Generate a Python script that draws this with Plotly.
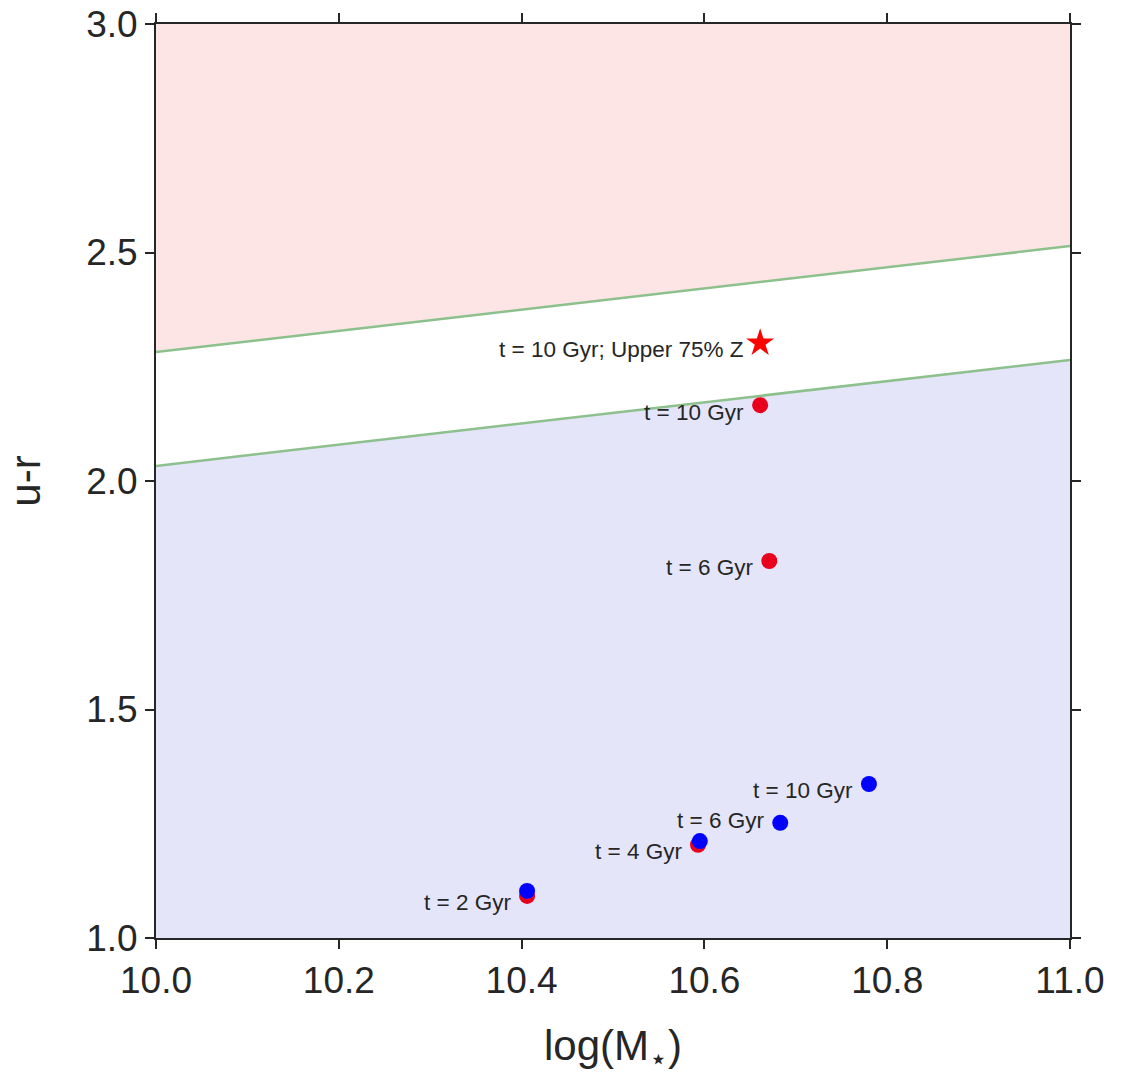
import plotly.graph_objects as go

# ---- data ----
boundary_x = [10.0, 11.0]
upper_line_y = [2.282, 2.514]
lower_line_y = [2.033, 2.265]

red_x = [10.406, 10.593, 10.671, 10.661]
red_y = [1.092, 1.204, 1.825, 2.166]
red_labels = ["t = 2 Gyr", "t = 4 Gyr", "t = 6 Gyr", "t = 10 Gyr"]

blue_x = [10.406, 10.595, 10.683, 10.780]
blue_y = [1.103, 1.212, 1.252, 1.337]
blue_labels = ["", "", "t = 6 Gyr", "t = 10 Gyr"]

star_x = [10.661]
star_y = [2.302]
star_labels = ["t = 10 Gyr; Upper 75% Z"]

x_range = [10.0, 11.0]
y_range = [1.0, 3.0]
x_ticks = [10.0, 10.2, 10.4, 10.6, 10.8, 11.0]
y_ticks = [1.0, 1.5, 2.0, 2.5, 3.0]

FONT = "Liberation Sans, Arial, sans-serif"
TXT = "#262626"

fig = go.Figure()

# red region above upper line
fig.add_trace(go.Scatter(
    x=boundary_x + boundary_x[::-1],
    y=upper_line_y + [y_range[1], y_range[1]],
    fill="toself", fillcolor="#fde5e5", line=dict(width=0),
    mode="lines", hoverinfo="skip", showlegend=False))
# blue region below lower line
fig.add_trace(go.Scatter(
    x=boundary_x + boundary_x[::-1],
    y=lower_line_y + [y_range[0], y_range[0]],
    fill="toself", fillcolor="#e5e5fa", line=dict(width=0),
    mode="lines", hoverinfo="skip", showlegend=False))
# boundary lines
for ly in (upper_line_y, lower_line_y):
    fig.add_trace(go.Scatter(x=boundary_x, y=ly, mode="lines",
                             line=dict(color="#8cc08c", width=2.5),
                             showlegend=False))

fig.add_trace(go.Scatter(x=red_x, y=red_y, mode="markers",
                         marker=dict(color="#e8001c", size=16),
                         showlegend=False))
fig.add_trace(go.Scatter(x=blue_x, y=blue_y, mode="markers",
                         marker=dict(color="#0000ff", size=16),
                         showlegend=False))
fig.add_trace(go.Scatter(x=star_x, y=star_y, mode="markers",
                         marker=dict(color="#ff0000", size=21, symbol="star"),
                         showlegend=False))

def label(xs, ys, texts, yshift=-7):
    for x, y, t in zip(xs, ys, texts):
        if not t:
            continue
        fig.add_annotation(x=x, y=y, text=t, showarrow=False,
                           xanchor="right", yanchor="middle",
                           xshift=-14, yshift=yshift,
                           font=dict(family=FONT, size=22.5, color=TXT))

label(red_x, red_y, red_labels)
label(blue_x[:3], blue_y[:3], blue_labels[:3], yshift=2)
label(blue_x[3:], blue_y[3:], blue_labels[3:])
label(star_x, star_y, star_labels)

axis_common = dict(
    showgrid=False, zeroline=False, showline=True, linecolor=TXT,
    linewidth=2, mirror="allticks", ticks="outside", ticklen=9,
    tickwidth=1.5, tickcolor=TXT, automargin=False,
    tickfont=dict(family=FONT, size=37, color=TXT),
)

fig.update_xaxes(range=x_range, tickvals=x_ticks,
                 ticktext=[f"{v:.1f}" for v in x_ticks],
                 title=dict(text="log(M<sub><span style='font-size:30px'>⋆</span></sub>)",
                            font=dict(family=FONT, size=42, color=TXT),
                            standoff=30),
                 **axis_common)
fig.update_yaxes(range=y_range, tickvals=y_ticks,
                 ticktext=[f"{v:.1f}" for v in y_ticks],
                 title=dict(text="u-r",
                            font=dict(family=FONT, size=42, color=TXT),
                            standoff=32),
                 **axis_common)

fig.update_layout(
    width=1131, height=1081,
    margin=dict(l=156, r=61, t=24, b=143),
    plot_bgcolor="white", paper_bgcolor="white",
    showlegend=False,
)

fig.write_html("out.html")
